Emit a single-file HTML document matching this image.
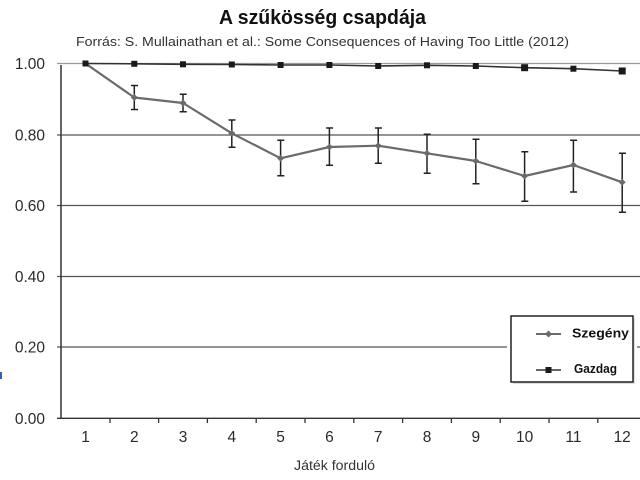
<!DOCTYPE html>
<html><head><meta charset="utf-8"><style>
html,body{margin:0;padding:0;background:#fff;}
svg{display:block;}
</style></head><body>
<svg width="640" height="480" viewBox="0 0 640 480" xmlns="http://www.w3.org/2000/svg">
<rect x="0" y="0" width="640" height="480" fill="#fff"/>
<!-- title -->
<text x="219" y="24" font-family="Liberation Sans, sans-serif" font-weight="bold" font-size="20" fill="#111" textLength="207" lengthAdjust="spacingAndGlyphs">A szűkösség csapdája</text>
<text x="76" y="46" font-family="Liberation Sans, sans-serif" font-size="13" fill="#333" textLength="493" lengthAdjust="spacingAndGlyphs">Forrás: S. Mullainathan et al.: Some  Consequences of Having Too Little (2012)</text>
<!-- gridlines -->
<g stroke-width="1.3">
<line x1="57" y1="63.5" x2="640" y2="63.5" stroke="#9a9a9a"/>
<line x1="57" y1="135" x2="640" y2="135" stroke="#555"/>
<line x1="57" y1="205.5" x2="640" y2="205.5" stroke="#555"/>
<line x1="57" y1="276.5" x2="640" y2="276.5" stroke="#555"/>
<line x1="57" y1="347" x2="640" y2="347" stroke="#555"/>
<line x1="57" y1="418.3" x2="640" y2="418.3" stroke="#333"/>
</g>
<!-- y axis -->
<line x1="61" y1="65" x2="61" y2="418.3" stroke="#333" stroke-width="1.5"/>
<!-- x ticks -->
<g stroke="#333" stroke-width="1.3">
<line x1="110" y1="418" x2="110" y2="423"/>
<line x1="158.6" y1="418" x2="158.6" y2="423"/>
<line x1="207.4" y1="418" x2="207.4" y2="423"/>
<line x1="256.2" y1="418" x2="256.2" y2="423"/>
<line x1="305" y1="418" x2="305" y2="423"/>
<line x1="353.8" y1="418" x2="353.8" y2="423"/>
<line x1="402.6" y1="418" x2="402.6" y2="423"/>
<line x1="451.4" y1="418" x2="451.4" y2="423"/>
<line x1="500.2" y1="418" x2="500.2" y2="423"/>
<line x1="549" y1="418" x2="549" y2="423"/>
<line x1="597.8" y1="418" x2="597.8" y2="423"/>
</g>
<!-- y labels -->
<g font-family="Liberation Sans, sans-serif" font-size="15.5" fill="#2a2a2a" text-anchor="end">
<text x="45" y="69">1.00</text>
<text x="45" y="140.5">0.80</text>
<text x="45" y="211">0.60</text>
<text x="45" y="282">0.40</text>
<text x="45" y="352.5">0.20</text>
<text x="45" y="424">0.00</text>
</g>
<!-- x labels -->
<g font-family="Liberation Sans, sans-serif" font-size="15.5" fill="#2a2a2a" text-anchor="middle">
<text x="85.5" y="442">1</text>
<text x="134.3" y="442">2</text>
<text x="183" y="442">3</text>
<text x="231.8" y="442">4</text>
<text x="280.6" y="442">5</text>
<text x="329.4" y="442">6</text>
<text x="378.2" y="442">7</text>
<text x="427" y="442">8</text>
<text x="475.8" y="442">9</text>
<text x="524.6" y="442">10</text>
<text x="573.4" y="442">11</text>
<text x="622.2" y="442">12</text>
</g>
<text x="294" y="470" font-family="Liberation Sans, sans-serif" font-size="13.5" fill="#333" textLength="81" lengthAdjust="spacingAndGlyphs">Játék forduló</text>
<!-- Szegény error bars -->
<g stroke="#222" stroke-width="1.5">
<path d="M134.3 85.5V109.5M131 85.5h7M131 109.5h7"/>
<path d="M183 94.3V111.7M179.7 94.3h7M179.7 111.7h7"/>
<path d="M231.8 120V147.3M228.5 120h7M228.5 147.3h7"/>
<path d="M280.6 140.3V175.7M277.3 140.3h7M277.3 175.7h7"/>
<path d="M329.4 128V165.3M326.1 128h7M326.1 165.3h7"/>
<path d="M378.2 128V163.3M374.9 128h7M374.9 163.3h7"/>
<path d="M427 134.3V173.3M423.7 134.3h7M423.7 173.3h7"/>
<path d="M475.8 139.3V183.7M472.5 139.3h7M472.5 183.7h7"/>
<path d="M524.6 151.7V201.3M521.3 151.7h7M521.3 201.3h7"/>
<path d="M573.4 140.3V192M570.1 140.3h7M570.1 192h7"/>
<path d="M622.2 153.3V212.3M618.9 153.3h7M618.9 212.3h7"/>
</g>
<!-- Szegény line -->
<polyline fill="none" stroke="#6b6b6b" stroke-width="2.2" stroke-linejoin="round" points="85.5,63.5 134.3,97.5 183,103 231.8,133.3 280.6,158.3 329.4,147 378.2,145.7 427,153.3 475.8,161 524.6,176 573.4,165 622.2,182.3"/>
<g fill="#6b6b6b">
<path d="M134.3 94l3.5 3.5-3.5 3.5-3.5-3.5z"/>
<path d="M183 99.5l3.5 3.5-3.5 3.5-3.5-3.5z"/>
<path d="M231.8 129.8l3.5 3.5-3.5 3.5-3.5-3.5z"/>
<path d="M280.6 154.8l3.5 3.5-3.5 3.5-3.5-3.5z"/>
<path d="M329.4 143.5l3.5 3.5-3.5 3.5-3.5-3.5z"/>
<path d="M378.2 142.2l3.5 3.5-3.5 3.5-3.5-3.5z"/>
<path d="M427 149.8l3.5 3.5-3.5 3.5-3.5-3.5z"/>
<path d="M475.8 157.5l3.5 3.5-3.5 3.5-3.5-3.5z"/>
<path d="M524.6 172.5l3.5 3.5-3.5 3.5-3.5-3.5z"/>
<path d="M573.4 161.5l3.5 3.5-3.5 3.5-3.5-3.5z"/>
<path d="M622.2 178.8l3.5 3.5-3.5 3.5-3.5-3.5z"/>
</g>
<!-- Gazdag line -->
<polyline fill="none" stroke="#333" stroke-width="1.6" points="85.5,63.5 134.3,63.8 183,64.3 231.8,64.5 280.6,65 329.4,65 378.2,66 427,65.3 475.8,66 524.6,67.7 573.4,68.7 622.2,71"/>
<g fill="#1a1a1a">
<rect x="82.5" y="60.5" width="6" height="6"/>
<rect x="131.3" y="60.8" width="6" height="6"/>
<rect x="180" y="61.3" width="6" height="6"/>
<rect x="228.8" y="61.5" width="6" height="6"/>
<rect x="277.6" y="62" width="6" height="6"/>
<rect x="326.4" y="62" width="6" height="6"/>
<rect x="375.2" y="63" width="6" height="6"/>
<rect x="424" y="62.3" width="6" height="6"/>
<rect x="472.8" y="63" width="6" height="6"/>
<rect x="521.1" y="64.2" width="7" height="7"/>
<rect x="570.4" y="65.7" width="6" height="6"/>
<rect x="618.7" y="67.5" width="7" height="7"/>
</g>
<!-- legend -->
<rect x="507" y="312" width="130" height="76" fill="#fff"/>
<rect x="513" y="318" width="122" height="66" fill="#bbb" opacity="0.5"/>
<rect x="511" y="316" width="122" height="66" fill="#fff" stroke="#222" stroke-width="1.5"/>
<line x1="536" y1="334" x2="561" y2="334" stroke="#6b6b6b" stroke-width="2"/>
<path d="M548.5 330.5l3.5 3.5-3.5 3.5-3.5-3.5z" fill="#6b6b6b"/>
<line x1="536" y1="370" x2="561" y2="370" stroke="#333" stroke-width="1.6"/>
<rect x="545.5" y="367" width="6" height="6" fill="#1a1a1a"/>
<text x="572" y="337.5" font-family="Liberation Sans, sans-serif" font-weight="bold" font-size="12.5" fill="#111" textLength="57" lengthAdjust="spacingAndGlyphs">Szegény</text>
<text x="574" y="373" font-family="Liberation Sans, sans-serif" font-weight="bold" font-size="12.5" fill="#111" textLength="43" lengthAdjust="spacingAndGlyphs">Gazdag</text>
<!-- small blue mark at left edge -->
<rect x="0" y="372" width="2" height="7" fill="#3a5cc0"/>
</svg>
</body></html>
